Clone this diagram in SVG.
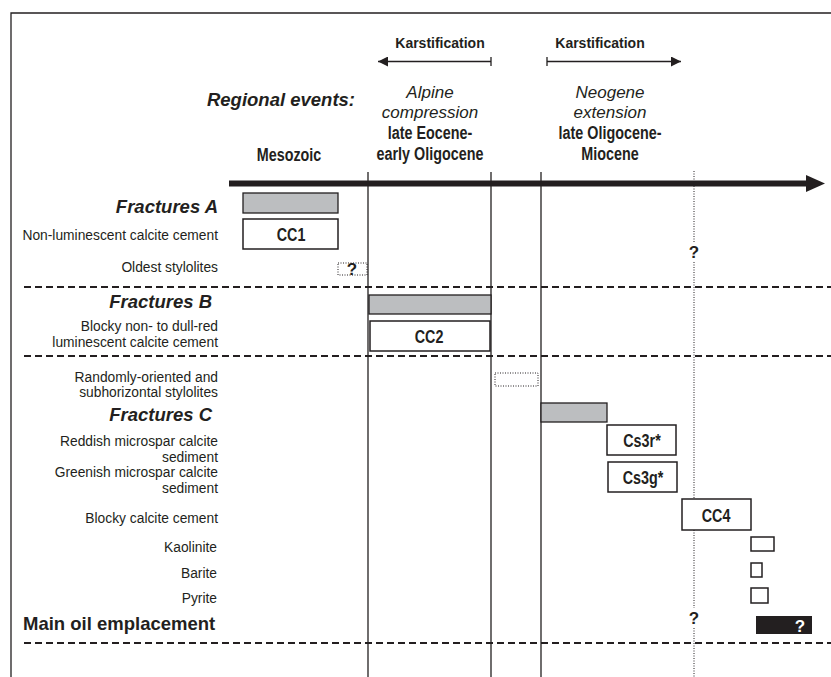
<svg xmlns="http://www.w3.org/2000/svg" width="831" height="677" viewBox="0 0 831 677">
<style>
.f{font-family:"Liberation Sans",Arial,Helvetica,sans-serif;fill:#231f20}
.nr{font-size:13.8px;text-anchor:end}
.nb{font-size:17.5px;font-weight:bold;text-anchor:middle}
.bi{font-size:18.5px;font-weight:bold;font-style:italic;text-anchor:end}
.it{font-size:17px;font-style:italic;text-anchor:middle}
.k{font-size:14px;font-weight:bold;text-anchor:middle}
.q{font-size:17px;font-weight:bold;text-anchor:middle}
.ln{stroke:#231f20;stroke-width:1.3;fill:none}
.dash{stroke:#231f20;stroke-width:2;stroke-dasharray:7 4;fill:none}
.dot{stroke:#231f20;stroke-width:1;stroke-dasharray:1 1.5;fill:none}
.bar{fill:#bcbec0;stroke:#231f20;stroke-width:1.3}
.box{fill:#fff;stroke:#231f20;stroke-width:1.5}
.dbox{fill:#fff;stroke:#231f20;stroke-width:1;stroke-dasharray:1 1.5}
</style>
<defs>
<marker id="ah" viewBox="0 0 10 10" refX="10" refY="5" markerWidth="10" markerHeight="10" markerUnits="userSpaceOnUse" orient="auto">
<path d="M0,0 L10,5 L0,10 Z" fill="#231f20"/>
</marker>
</defs>
<rect width="831" height="677" fill="#fff"/>
<g id="frame">
<path class="ln" d="M11,677 V13 H831" stroke-width="1.6"/>
</g>
<g id="connectors">
<line x1="229" y1="183.5" x2="808" y2="183.5" stroke="#231f20" stroke-width="6"/>
<polygon points="806,175 825,183.5 806,192" fill="#231f20"/>
<line class="ln" x1="491" y1="61.5" x2="378" y2="61.5" marker-end="url(#ah)" stroke-width="1.5"/>
<line class="ln" x1="491" y1="57" x2="491" y2="66"/>
<line class="ln" x1="547" y1="61.5" x2="681" y2="61.5" marker-end="url(#ah)" stroke-width="1.5"/>
<line class="ln" x1="547" y1="57" x2="547" y2="66"/>
<line class="ln" x1="368" y1="172" x2="368" y2="677"/>
<line class="ln" x1="491" y1="172" x2="491" y2="677"/>
<line class="ln" x1="541" y1="172" x2="541" y2="677"/>
<path class="dot" d="M694,171 V242 M694,262 V499 M694,530 V608 M694,628 V677"/>
<line class="dash" x1="24" y1="287" x2="831" y2="287"/>
<line class="dash" x1="24" y1="356" x2="831" y2="356"/>
<line class="dash" x1="24" y1="643" x2="831" y2="643"/>
</g>
<g id="header">
<text class="f k" x="440" y="48">Karstification</text>
<text class="f k" x="600" y="48">Karstification</text>
<text class="f bi" x="355" y="106">Regional events:</text>
<text class="f nb" transform="translate(289,161) scale(0.82,1)">Mesozoic</text>
<text class="f it" x="430" y="98">Alpine</text>
<text class="f it" x="430" y="118">compression</text>
<text class="f nb" transform="translate(430,139) scale(0.82,1)">late Eocene-</text>
<text class="f nb" transform="translate(430,160) scale(0.82,1)">early Oligocene</text>
<text class="f it" x="610" y="98">Neogene</text>
<text class="f it" x="610" y="118">extension</text>
<text class="f nb" transform="translate(610,139) scale(0.82,1)">late Oligocene-</text>
<text class="f nb" transform="translate(610,160) scale(0.82,1)">Miocene</text>
</g>
<g id="fracturesA">
<text class="f bi" x="218" y="213">Fractures A</text>
<rect class="bar" x="243" y="193" width="95" height="20"/>
</g>
<g id="cc1">
<text class="f nr" x="218" y="240">Non-luminescent calcite cement</text>
<rect class="box" x="243" y="219" width="95" height="30"/>
<text class="f nb" transform="translate(291,241) scale(0.82,1)">CC1</text>
</g>
<g id="oldestStylolites">
<text class="f nr" x="218" y="272">Oldest stylolites</text>
<rect class="dbox" x="338" y="263" width="29" height="12"/>
<text class="f q" x="352" y="275">?</text>
</g>
<g id="fracturesB">
<text class="f bi" x="212" y="308">Fractures B</text>
<rect class="bar" x="369" y="295" width="122" height="19"/>
</g>
<g id="cc2">
<text class="f nr" x="218" y="331">Blocky non- to dull-red</text>
<text class="f nr" x="218" y="346.5">luminescent calcite cement</text>
<rect class="box" x="370" y="321" width="120" height="30" stroke-width="2"/>
<text class="f nb" transform="translate(429,343) scale(0.82,1)">CC2</text>
</g>
<g id="stylolites2">
<text class="f nr" x="218" y="381.5">Randomly-oriented and</text>
<text class="f nr" x="218" y="397">subhorizontal stylolites</text>
<rect class="dbox" x="495" y="373" width="43" height="13"/>
</g>
<g id="fracturesC">
<text class="f bi" x="212" y="421">Fractures C</text>
<rect class="bar" x="541" y="403" width="66" height="19"/>
</g>
<g id="cs3r">
<text class="f nr" x="218" y="446">Reddish microspar calcite</text>
<text class="f nr" x="218" y="461.5">sediment</text>
<rect class="box" x="607" y="425" width="69" height="30"/>
<text class="f nb" transform="translate(642,447) scale(0.82,1)">Cs3r*</text>
</g>
<g id="cs3g">
<text class="f nr" x="218" y="477">Greenish microspar calcite</text>
<text class="f nr" x="218" y="492.5">sediment</text>
<rect class="box" x="608" y="462" width="69" height="30"/>
<text class="f nb" transform="translate(643,484) scale(0.82,1)">Cs3g*</text>
</g>
<g id="cc4">
<text class="f nr" x="218" y="523">Blocky calcite cement</text>
<rect class="box" x="682" y="499" width="69" height="31"/>
<text class="f nb" transform="translate(716,522) scale(0.82,1)">CC4</text>
</g>
<g id="kaolinite">
<text class="f nr" x="217" y="552">Kaolinite</text>
<rect class="box" x="751" y="537" width="23" height="14" stroke-width="1.3"/>
</g>
<g id="barite">
<text class="f nr" x="217" y="578">Barite</text>
<rect class="box" x="751" y="563" width="11" height="14" stroke-width="1.3"/>
</g>
<g id="pyrite">
<text class="f nr" x="217" y="603">Pyrite</text>
<rect class="box" x="751" y="588" width="17" height="15" stroke-width="1.3"/>
</g>
<g id="oil">
<text class="f" x="23" y="630" font-size="18.5" font-weight="bold">Main oil emplacement</text>
<rect x="756" y="616" width="56" height="18" fill="#231f20"/>
<text class="q" x="800" y="632" fill="#fff" font-family="Liberation Sans, Arial, sans-serif">?</text>
</g>
<g id="queries">
<text class="f q" x="694" y="258">?</text>
<text class="f q" x="694" y="624">?</text>
</g>
</svg>
